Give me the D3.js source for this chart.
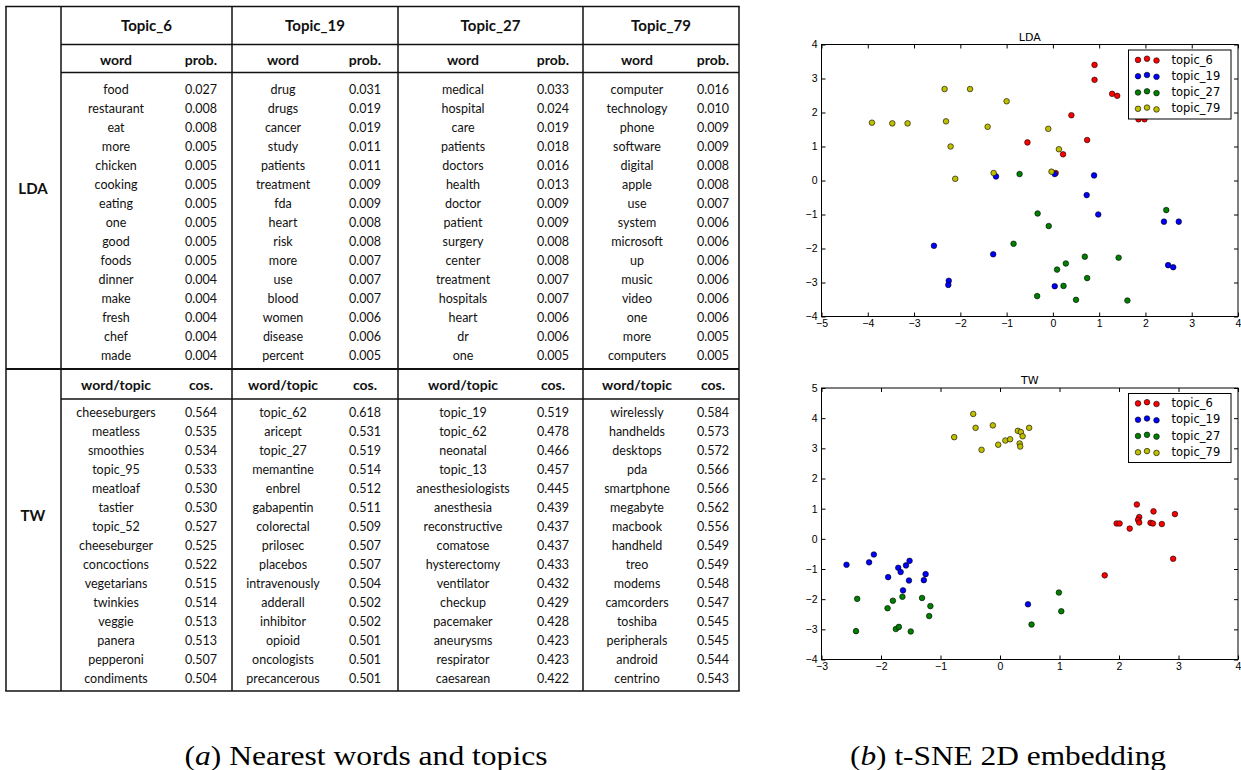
<!DOCTYPE html>
<html>
<head>
<meta charset="utf-8">
<script src="https://cdn.jsdelivr.net/npm/d3@7"></script>
<style>
  body { margin: 0; background: #fff; }
</style>
</head>
<body>
<script>
// ---- table data ----
const topics = ["Topic_6", "Topic_19", "Topic_27", "Topic_79"];

const ldaWords = [
  ["food", "restaurant", "eat", "more", "chicken", "cooking", "eating", "one", "good", "foods", "dinner", "make", "fresh", "chef", "made"],
  ["drug", "drugs", "cancer", "study", "patients", "treatment", "fda", "heart", "risk", "more", "use", "blood", "women", "disease", "percent"],
  ["medical", "hospital", "care", "patients", "doctors", "health", "doctor", "patient", "surgery", "center", "treatment", "hospitals", "heart", "dr", "one"],
  ["computer", "technology", "phone", "software", "digital", "apple", "use", "system", "microsoft", "up", "music", "video", "one", "more", "computers"]
];
const ldaProbs = [
  ["0.027", "0.008", "0.008", "0.005", "0.005", "0.005", "0.005", "0.005", "0.005", "0.005", "0.004", "0.004", "0.004", "0.004", "0.004"],
  ["0.031", "0.019", "0.019", "0.011", "0.011", "0.009", "0.009", "0.008", "0.008", "0.007", "0.007", "0.007", "0.006", "0.006", "0.005"],
  ["0.033", "0.024", "0.019", "0.018", "0.016", "0.013", "0.009", "0.009", "0.008", "0.008", "0.007", "0.007", "0.006", "0.006", "0.005"],
  ["0.016", "0.010", "0.009", "0.009", "0.008", "0.008", "0.007", "0.006", "0.006", "0.006", "0.006", "0.006", "0.006", "0.005", "0.005"]
];
const twWords = [
  ["cheeseburgers", "meatless", "smoothies", "topic_95", "meatloaf", "tastier", "topic_52", "cheeseburger", "concoctions", "vegetarians", "twinkies", "veggie", "panera", "pepperoni", "condiments"],
  ["topic_62", "aricept", "topic_27", "memantine", "enbrel", "gabapentin", "colorectal", "prilosec", "placebos", "intravenously", "adderall", "inhibitor", "opioid", "oncologists", "precancerous"],
  ["topic_19", "topic_62", "neonatal", "topic_13", "anesthesiologists", "anesthesia", "reconstructive", "comatose", "hysterectomy", "ventilator", "checkup", "pacemaker", "aneurysms", "respirator", "caesarean"],
  ["wirelessly", "handhelds", "desktops", "pda", "smartphone", "megabyte", "macbook", "handheld", "treo", "modems", "camcorders", "toshiba", "peripherals", "android", "centrino"]
];
const twCos = [
  ["0.564", "0.535", "0.534", "0.533", "0.530", "0.530", "0.527", "0.525", "0.522", "0.515", "0.514", "0.513", "0.513", "0.507", "0.504"],
  ["0.618", "0.531", "0.519", "0.514", "0.512", "0.511", "0.509", "0.507", "0.507", "0.504", "0.502", "0.502", "0.501", "0.501", "0.501"],
  ["0.519", "0.478", "0.466", "0.457", "0.445", "0.439", "0.437", "0.437", "0.433", "0.432", "0.429", "0.428", "0.423", "0.423", "0.422"],
  ["0.584", "0.573", "0.572", "0.566", "0.566", "0.562", "0.556", "0.549", "0.549", "0.548", "0.547", "0.545", "0.545", "0.544", "0.543"]
];

// ---- t-SNE points ----
const seriesNames = ["topic_6", "topic_19", "topic_27", "topic_79"];

const ldaT6 = [[0.90, 3.40], [0.90, 2.96], [1.28, 2.55], [1.39, 2.49], [0.40, 1.92], [-0.55, 1.12], [0.74, 1.19],
  [0.22, 0.77], [0.06, 0.22], [1.85, 1.80], [1.98, 1.80]];
const ldaT19 = [[-2.57, -1.92], [-2.25, -2.95], [-2.26, -3.07], [-1.29, -2.17], [-1.23, 0.12], [0.04, 0.19], [0.89, 0.15],
  [0.73, -0.43], [0.98, -1.00], [2.40, -1.21], [2.72, -1.21], [2.49, -2.49], [2.60, -2.55], [0.04, -3.11]];
const ldaT27 = [[-0.72, 0.19], [-0.33, -0.97], [-0.09, -1.34], [-0.85, -1.86], [0.69, -2.24], [0.28, -2.44], [0.09, -2.62],
  [0.74, -2.87], [0.23, -3.10], [-0.34, -3.40], [0.50, -3.51], [1.42, -2.27], [1.61, -3.53], [2.45, -0.87]];
const ldaT79 = [[-3.91, 1.70], [-3.47, 1.68], [-3.14, 1.68], [-2.34, 2.69], [-1.79, 2.69], [-1.00, 2.33], [-2.31, 1.74],
  [-1.41, 1.58], [-2.21, 1.00], [-2.11, 0.05], [-1.28, 0.22], [-0.10, 1.52], [0.13, 0.92], [-0.03, 0.26]];

const twT6 = [[2.30, 1.14], [2.58, 0.91], [2.94, 0.82], [2.34, 0.72], [2.32, 0.63], [2.34, 0.54], [1.96, 0.51],
  [2.01, 0.51], [2.18, 0.34], [2.53, 0.53], [2.57, 0.51], [2.72, 0.49], [2.91, -0.66], [1.76, -1.21]];
const twT19 = [[-2.58, -0.86], [-2.12, -0.52], [-2.20, -0.78], [-1.71, -0.96], [-1.67, -1.10], [-1.58, -0.88], [-1.52, -0.73],
  [-1.88, -1.27], [-1.53, -1.38], [-1.25, -1.17], [-1.28, -1.37], [-1.63, -1.71], [0.47, -2.17]];
const twT27 = [[-2.40, -1.99], [-2.42, -3.06], [-1.89, -2.30], [-1.80, -2.05], [-1.64, -1.92], [-1.31, -1.96], [-1.17, -2.23],
  [-1.19, -2.56], [-1.75, -2.99], [-1.70, -2.92], [-1.50, -3.07], [0.99, -1.78], [1.03, -2.40], [0.53, -2.84]];
const twT79 = [[-0.45, 4.14], [-0.41, 3.68], [-0.77, 3.37], [-0.12, 3.76], [-0.31, 2.95], [-0.03, 3.12], [0.09, 3.26],
  [0.17, 3.30], [0.30, 3.58], [0.35, 3.54], [0.38, 3.40], [0.33, 3.16], [0.34, 3.06], [0.49, 3.68]];

const color = d3.scaleOrdinal()
  .domain(seriesNames)
  .range(["#ff0000", "#0000ff", "#007f00", "#bfbf00"]);

const svg = d3.select("body").append("svg")
  .attr("width", 1241)
  .attr("height", 770);

// ================= table =================
const tableFont = "Lato, 'Open Sans', sans-serif";
const colX = [6, 61, 232, 398, 583, 739];
const wordX = [116, 283, 463, 637];
const valX = [201, 365, 553, 713];
const rowStep = 19;

const table = svg.append("g").attr("class", "table")
  .style("font-family", tableFont)
  .attr("text-anchor", "middle")
  .attr("dominant-baseline", "central")
  .attr("fill", "#111");

function hline(y, x1, x2, w) {
  table.append("line")
    .attr("x1", x1).attr("x2", x2).attr("y1", y).attr("y2", y)
    .attr("stroke", "#111").attr("stroke-width", w);
}
function vline(x, y1, y2, w) {
  table.append("line")
    .attr("x1", x).attr("x2", x).attr("y1", y1).attr("y2", y2)
    .attr("stroke", "#111").attr("stroke-width", w);
}

hline(6.5, colX[0] - 0.75, colX[5] + 0.75, 1.5);
hline(44.5, colX[1], colX[5], 1.5);
hline(72.5, colX[1], colX[5], 1.5);
hline(369, colX[0], colX[5], 2);
hline(399, colX[1], colX[5], 1.5);
hline(691, colX[0] - 0.75, colX[5] + 0.75, 1.5);
colX.forEach(x => vline(x, 6.5, 691, 1.5));

// topic headers
topics.forEach((t, i) => {
  table.append("text")
    .attr("x", (colX[i + 1] + colX[i + 2]) / 2)
    .attr("y", 25)
    .style("font-size", "15px")
    .style("font-weight", "bold")
    .text(t);
});

// row labels
table.append("text").attr("x", 33).attr("y", 188)
  .style("font-size", "15px").style("font-weight", "bold").text("LDA");
table.append("text").attr("x", 33).attr("y", 515)
  .style("font-size", "15px").style("font-weight", "bold").text("TW");

function block(words, vals, head1, head2, headY, firstY) {
  topics.forEach((t, i) => {
    table.append("text").attr("x", wordX[i]).attr("y", headY)
      .style("font-size", "14px").style("font-weight", "bold").text(head1);
    table.append("text").attr("x", valX[i]).attr("y", headY)
      .style("font-size", "14px").style("font-weight", "bold").text(head2);

    table.append("g").selectAll("text.w")
      .data(words[i])
      .enter().append("text")
      .attr("x", wordX[i])
      .attr("y", (d, k) => firstY + k * rowStep)
      .style("font-size", "12.5px")
      .text(d => d);

    table.append("g").selectAll("text.v")
      .data(vals[i])
      .enter().append("text")
      .attr("x", valX[i])
      .attr("y", (d, k) => firstY + k * rowStep)
      .style("font-size", "12.5px")
      .text(d => d);
  });
}
block(ldaWords, ldaProbs, "word", "prob.", 59, 89);
block(twWords, twCos, "word/topic", "cos.", 384, 412);

// ================= scatter plots =================
function drawScatter(title, xDom, yDom, series, box) {
  let x = d3.scaleLinear().domain(xDom).range([box.x0, box.x1]);
  let y = d3.scaleLinear().domain(yDom).range([box.y1, box.y0]);

  let g = svg.append("g").attr("class", "scatter")
    .style("font-family", "'DejaVu Sans', sans-serif");

  let xt = d3.range(xDom[0], xDom[1] + 1);
  let yt = d3.range(yDom[0], yDom[1] + 1);

  g.append("g")
    .attr("transform", `translate(0,${box.y1})`)
    .call(d3.axisBottom(x).tickValues(xt).tickSize(-4).tickSizeOuter(0).tickPadding(3).tickFormat(d3.format("d")))
    .call(a => a.select(".domain").remove());
  g.append("g")
    .attr("transform", `translate(0,${box.y0})`)
    .call(d3.axisTop(x).tickValues(xt).tickSize(-4).tickSizeOuter(0).tickFormat(""))
    .call(a => a.select(".domain").remove());
  g.append("g")
    .attr("transform", `translate(${box.x0},0)`)
    .call(d3.axisLeft(y).tickValues(yt).tickSize(-4).tickSizeOuter(0).tickPadding(4).tickFormat(d3.format("d")))
    .call(a => a.select(".domain").remove());
  g.append("g")
    .attr("transform", `translate(${box.x1},0)`)
    .call(d3.axisRight(y).tickValues(yt).tickSize(-4).tickSizeOuter(0).tickFormat(""))
    .call(a => a.select(".domain").remove());

  g.selectAll(".tick text").style("font-size", "10.5px").attr("fill", "#000");
  g.selectAll(".tick line").attr("stroke", "#000");

  g.append("rect")
    .attr("x", box.x0).attr("y", box.y0)
    .attr("width", box.x1 - box.x0).attr("height", box.y1 - box.y0)
    .attr("fill", "none").attr("stroke", "#000").attr("stroke-width", 1);

  g.append("text")
    .attr("x", (box.x0 + box.x1) / 2).attr("y", box.y0 - 4)
    .attr("text-anchor", "middle")
    .style("font-size", "11px")
    .text(title);

  series.forEach((pts, i) => {
    g.append("g").selectAll("circle")
      .data(pts)
      .enter().append("circle")
      .attr("cx", d => x(d[0]))
      .attr("cy", d => y(d[1]))
      .attr("r", 2.8)
      .attr("fill", color(seriesNames[i]))
      .attr("stroke", "#000")
      .attr("stroke-width", 0.6);
  });

  // legend (old matplotlib style: three markers per entry)
  let lx = box.x1 - 7 - 102.5, ly = box.y0 + 5.5;
  let lg = g.append("g").attr("transform", `translate(${lx},${ly})`);
  lg.append("rect").attr("width", 102.5).attr("height", 69)
    .attr("fill", "#fff").attr("stroke", "#000").attr("stroke-width", 1);
  let offs = [[9.5, 0.4], [18.5, -0.8], [28, 1]];
  seriesNames.forEach((s, i) => {
    let ry = 9.5 + i * 16.3;
    offs.forEach(o => {
      lg.append("circle").attr("cx", o[0]).attr("cy", ry + o[1]).attr("r", 2.8)
        .attr("fill", color(s)).attr("stroke", "#000").attr("stroke-width", 0.6);
    });
    lg.append("text").attr("x", 43).attr("y", ry)
      .attr("dominant-baseline", "central")
      .style("font-size", "11.5px")
      .text(s);
  });
}

drawScatter("LDA", [-5, 4], [-4, 4], [ldaT6, ldaT19, ldaT27, ldaT79],
  {x0: 821.5, x1: 1238, y0: 44.5, y1: 316.5});
drawScatter("TW", [-3, 4], [-4, 5], [twT6, twT19, twT27, twT79],
  {x0: 821.5, x1: 1238, y0: 388, y1: 659.5});

// ================= captions =================
function caption(cx, width, letter, rest) {
  let t = svg.append("text")
    .attr("x", cx).attr("y", 765)
    .attr("text-anchor", "middle")
    .attr("textLength", width)
    .attr("lengthAdjust", "spacingAndGlyphs")
    .style("font-family", "'Liberation Serif', 'DejaVu Serif', serif")
    .style("font-size", "27px");
  t.append("tspan").text("(");
  t.append("tspan").style("font-style", "italic").text(letter);
  t.append("tspan").text(") " + rest);
}
caption(366, 363, "a", "Nearest words and topics");
caption(1008, 316, "b", "t-SNE 2D embedding");
</script>
</body>
</html>
